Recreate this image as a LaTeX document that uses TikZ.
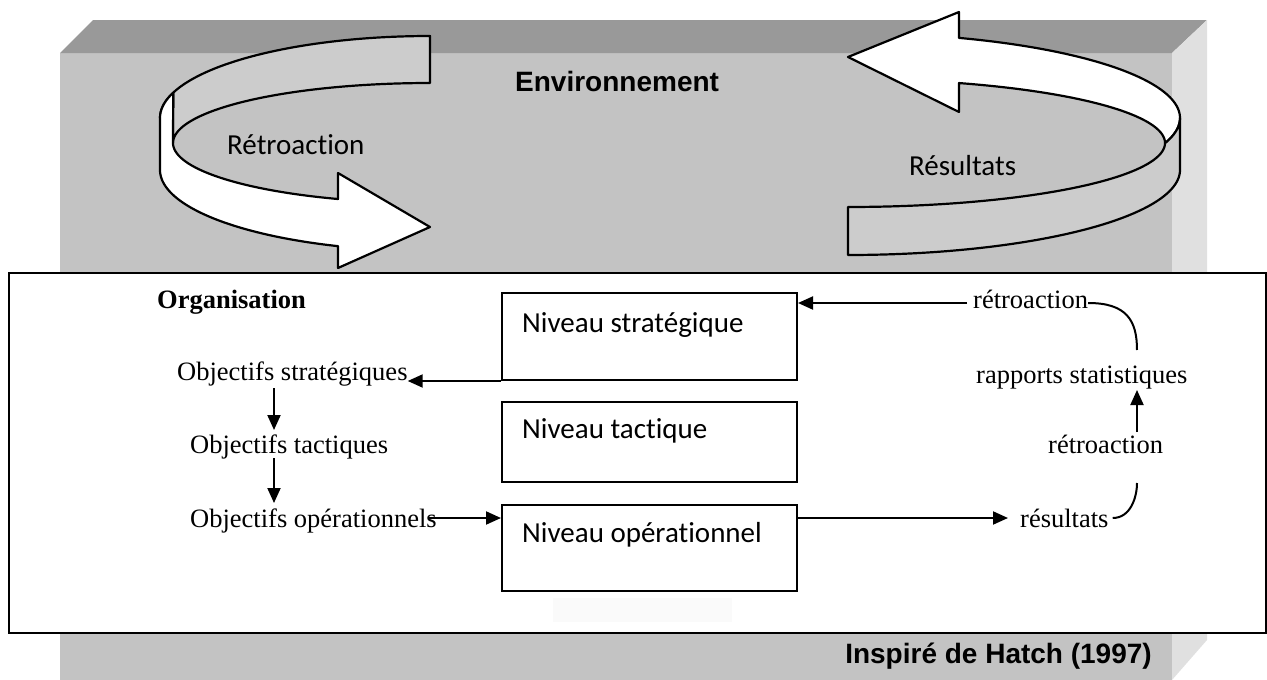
\documentclass[tikz,border=0pt]{standalone}
\usepackage{fontspec}
\setmainfont{Liberation Serif}
\newfontfamily\calib[Ligatures={NoCommon,NoContextual,NoDiscretionary}]{Carlito}
\newfontfamily\arialf{Liberation Sans}
\usetikzlibrary{arrows.meta,calc}
\definecolor{topface}{RGB}{153,153,153}
\definecolor{frontface}{RGB}{195,195,195}
\definecolor{sideface}{RGB}{224,224,224}
\definecolor{ribbongrey}{RGB}{204,204,204}
\definecolor{faint}{RGB}{250,250,250}
\begin{document}
\begin{tikzpicture}[x=1pt,y=-1pt,
  serif/.style={font=\fontsize{26.5}{30}\selectfont, inner sep=0pt, anchor=base west},
  calibri/.style={font=\calib\fontsize{29}{33}\selectfont, inner sep=0pt, anchor=base west},
  arialb/.style={font=\arialf\bfseries\fontsize{28}{32}\selectfont, inner sep=0pt},
  levelbox/.style={draw, line width=2pt, fill=white, minimum width=295pt, anchor=north west, inner sep=0pt},
  arr/.style={line width=2pt, -{Triangle[length=15pt,width=13pt]}},
  conn/.style={line width=2pt},
  ribbon/.style={draw, line width=2.2pt, line join=round},
]
\useasboundingbox (0,0) rectangle (1267,680);
% slab
\fill[frontface] (60,53) rectangle (1172,680);
\fill[topface] (60,53) -- (93,20) -- (1207,20) -- (1172,53) -- cycle;
\fill[sideface] (1172,53) -- (1207,20) -- (1207,640) -- (1172,680) -- cycle;
% left ribbon (back band)
\filldraw[ribbon, fill=ribbongrey] (430,36)
  -- plot[domain=-90:-180, samples=80] ({430+270*cos(\x)},{118+82*sin(\x)})
  -- plot[domain=180:198, samples=10] ({430+270*cos(\x)},{118+82*sin(\x)})
  -- plot[domain=180:270, samples=80] ({430+257*cos(\x)},{143+60*sin(\x)})
  -- cycle;
% left ribbon (front with head)
\filldraw[ribbon, fill=white] (160,118)
  -- plot[domain=180:198, samples=10] ({430+270*cos(\x)},{118+82*sin(\x)})
  -- plot[domain=180:110.98, samples=80] ({430+257*cos(\x)},{143+60*sin(\x)})
  -- (338,173) -- (430,227) -- (338,268)
  -- plot[domain=109.92:180, samples=80] ({430+270*cos(\x)},{170+81*sin(\x)})
  -- cycle;
% right ribbon (upper with head)
\filldraw[ribbon, fill=white]
  plot[domain=-70.47:17.1, samples=80] ({848+332*cos(\x)},{118+85*sin(\x)})
  -- plot[domain=0:-69.5, samples=80] ({848+317*cos(\x)},{143+64*sin(\x)})
  -- (959,112) -- (848,57) -- (959,12) -- cycle;
% right ribbon (lower band)
\filldraw[ribbon, fill=ribbongrey] (1180,118)
  -- plot[domain=0:90, samples=80] ({848+332*cos(\x)},{170+85*sin(\x)})
  -- (848,207)
  -- plot[domain=90:0, samples=80] ({848+317*cos(\x)},{143+64*sin(\x)})
  -- plot[domain=17.1:0, samples=10] ({848+332*cos(\x)},{118+85*sin(\x)})
  -- cycle;
\node[calibri] (retroT) at (227,154) {Rétroaction};
\node[calibri] (resT) at (909,175) {Résultats};
\node[arialb, anchor=base west] (env) at (515,91) {Environnement};
% organisation box
\node[draw, fill=white, line width=2pt, minimum width=1257pt, minimum height=360pt, anchor=north west, inner sep=0pt] (org) at (8,272) {};
\fill[faint] (553,598) rectangle (732,622);
\node[arialb, anchor=base east] (src) at (1152,663) {Inspiré de Hatch (1997)};
% level boxes
\node[levelbox, minimum height=87pt] (strat) at (501,292) {};
\node[levelbox, minimum height=80pt] (tact) at (501,401) {};
\node[levelbox, minimum height=86pt] (oper) at (501,504) {};
\node[calibri] (stratL) at ($(strat.north west)+(21,40)$) {Niveau stratégique};
\node[calibri] (tactL) at ($(tact.north west)+(21,37)$) {Niveau tactique};
\node[calibri] (operL) at ($(oper.north west)+(21,38)$) {Niveau opérationnel};
% left texts
\node[serif, font=\bfseries\fontsize{26.5}{30}\selectfont] (orgL) at (157,308) {Organisation};
\node[serif] (objs) at (177,380) {Objectifs stratégiques};
\node[serif] (objt) at (190,453) {Objectifs tactiques};
\node[serif] (objo) at (190,527) {Objectifs opérationnels};
% right texts
\node[serif] (retro1) at (973,308) {rétroaction};
\node[serif] (rap) at (976,383) {rapports statistiques};
\node[serif] (retro2) at (1048,453) {rétroaction};
\node[serif] (res) at (1020,527) {résultats};
% columns
\coordinate (col1) at (274,0);
\coordinate (col2) at (1137,0);
% connectors left
\draw[arr] (strat.south west) -- (strat.south west -| objs.east);
\draw[arr] ($(col1 |- objs.base)+(0,8)$) -- ($(col1 |- objt.base)+(0,-23)$);
\draw[arr] ($(col1 |- objt.base)+(0,5)$) -- ($(col1 |- objo.base)+(0,-24)$);
\coordinate (l3) at ($(objo.base east)+(-8,-9)$);
\draw[arr] (l3) -- (l3 -| oper.west);
\draw[arr, shorten >=12pt] (l3 -| oper.east) -- (l3 -| res.west);
% connectors right
\coordinate (l1) at ($(retro1.base west)+(-6,-5)$);
\draw[arr] (l1) -- (l1 -| strat.east);
\draw[conn] ($(retro1.base east)+(0,-5)$) .. controls +(38,0) and +(0,-30) .. ($(col2 |- rap.base)+(0,-33)$);
\draw[arr] ($(col2 |- retro2.base)+(0,-21)$) -- ($(col2 |- rap.base)+(0,7)$);
\draw[conn] ($(res.base east)+(4,-9)$) .. controls +(18,0) and +(0,14) .. ($(col2 |- retro2.base)+(0,30)$);
\end{tikzpicture}
\end{document}
